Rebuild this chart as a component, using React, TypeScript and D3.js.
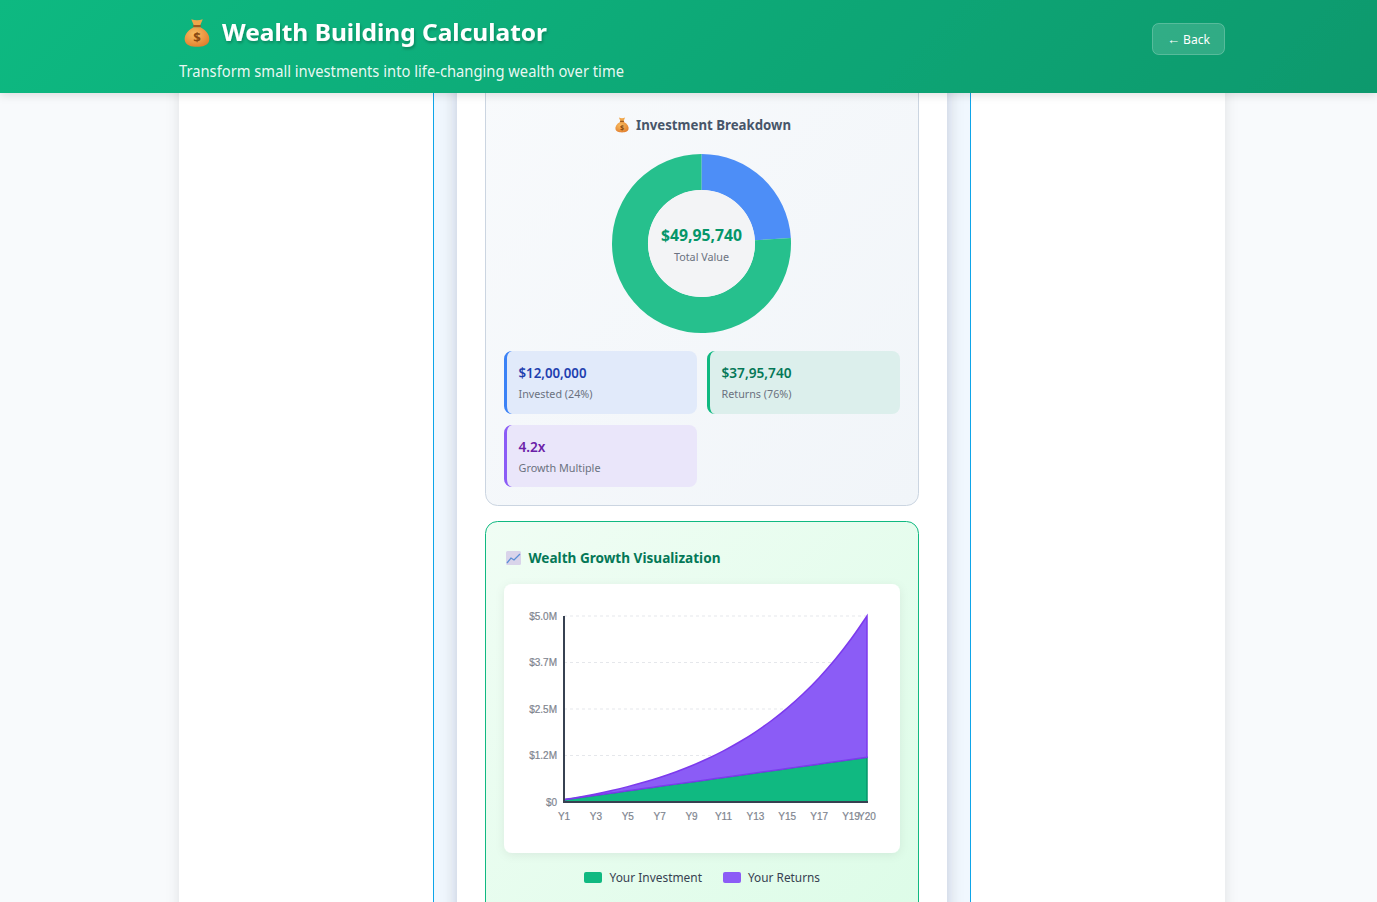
import React from 'react';
import * as d3 from 'd3';

// breakdown
const breakdownLabels = ['Invested', 'Returns'];
const breakdownValues = [1200000, 3795740];
const breakdownColors = ['#3b82f6', '#10b981'];

// growth chart
const years = ['Y1', 'Y2', 'Y3', 'Y4', 'Y5', 'Y6', 'Y7', 'Y8', 'Y9', 'Y10', 'Y11', 'Y12', 'Y13', 'Y14', 'Y15', 'Y16', 'Y17', 'Y18', 'Y19', 'Y20'];
const investment = [60000, 120000, 180000, 240000, 300000, 360000, 420000, 480000, 540000, 600000, 660000, 720000, 780000, 840000, 900000, 960000, 1020000, 1080000, 1140000, 1200000];
const totalValue = [64047, 136216, 217538, 309174, 412432, 528785, 659895, 807633, 974108, 1161695, 1373075, 1611261, 1879656, 2182089, 2522880, 2906891, 3339604, 3827196, 4376627, 4995740];
const yTickLabels = ['$0', '$1.2M', '$2.5M', '$3.7M', '$5.0M'];
const xTickLabels = ['Y1', 'Y3', 'Y5', 'Y7', 'Y9', 'Y11', 'Y13', 'Y15', 'Y17', 'Y19', 'Y20'];

const uiFont = '"Noto Sans", "Open Sans", sans-serif';
const axisFont = '"Liberation Sans", Arial, sans-serif';
const axisGrey = '#80858f';

const MoneyBag = ({ x, y, s }: { x: number; y: number; s: number }) => (
  <g transform={`translate(${x},${y}) scale(${s})`}>
    <path d="M-5 -12 Q0 -10 5 -12 L2.5 -6 L-2.5 -6 Z" fill="#f0a64a" />
    <rect x={-3.5} y={-7} width={7} height={2} rx={1} fill="#9c5a20" />
    <path d="M-3 -5 C-9 -2 -11.5 3 -10.5 7 C-9.5 11 -5 12 0 12 C5 12 9.5 11 10.5 7 C11.5 3 9 -2 3 -5 Z" fill="url(#bag)" />
    <text x={0} y={7.5} textAnchor="middle" fontSize={11.5} fontWeight={700} fontFamily={uiFont} fill="#8a4a12">$</text>
  </g>
);

export default function App() {
  // donut
  const pie = d3.pie<number>().sort(null)(breakdownValues);
  const arc = d3.arc<d3.PieArcDatum<number>>().innerRadius(53.5).outerRadius(89.5);

  // growth chart scales
  const x = d3.scalePoint<string>().domain(years).range([564, 867]);
  const y = d3.scaleLinear().domain([0, 4995740]).range([802, 616]);
  const idx = d3.range(years.length);

  const greenArea = d3.area<number>()
    .x(i => x(years[i])!)
    .y0(y(0))
    .y1(i => y(investment[i]))
    .curve(d3.curveMonotoneX);
  const purpleArea = d3.area<number>()
    .x(i => x(years[i])!)
    .y0(i => y(investment[i]))
    .y1(i => y(totalValue[i]))
    .curve(d3.curveMonotoneX);

  const yTicks = yTickLabels.map((label, i) => ({ label, v: (4995740 * i) / 4 }));

  const statCard = (cx: number, cy: number, h: number, bar: string, bg: string, val: string, valW: number, valColor: string, label: string, labelW: number) => (
    <g key={label}>
      <rect x={cx} y={cy} width={193} height={h} rx={8} fill={bg} />
      <path d={`M${cx + 8} ${cy} A8 8 0 0 0 ${cx} ${cy + 8} V${cy + h - 8} A8 8 0 0 0 ${cx + 8} ${cy + h} Q${cx + 3} ${cy + h - 1} ${cx + 3} ${cy + h - 8} V${cy + 8} Q${cx + 3} ${cy + 1} ${cx + 8} ${cy} Z`} fill={bar} />
      <text x={cx + 14.5} y={cy + 27} fontSize={14} fontWeight={600} fill={valColor} textLength={valW} lengthAdjust="spacingAndGlyphs">{val}</text>
      <text x={cx + 14.5} y={cy + 47} fontSize={11} fill="#6b7280" textLength={labelW} lengthAdjust="spacingAndGlyphs">{label}</text>
    </g>
  );

  return (
    <svg width={1377} height={902} viewBox="0 0 1377 902" fontFamily={uiFont}
      style={{ position: 'fixed', left: 0, top: 0, display: 'block' }}>
      <defs>
        <linearGradient id="hdr" gradientUnits="userSpaceOnUse" x1={321} y1={-321} x2={1056} y2={414}>
          <stop offset="0" stopColor="#10b981" />
          <stop offset="1" stopColor="#07996d" />
        </linearGradient>
        <radialGradient id="bag" cx="0.4" cy="0.35" r="0.75">
          <stop offset="0" stopColor="#f9bd62" />
          <stop offset="1" stopColor="#e07a2a" />
        </radialGradient>
        <linearGradient id="card1" x1="0" y1="0" x2="1" y2="1">
          <stop offset="0" stopColor="#f8fafc" />
          <stop offset="1" stopColor="#f1f5f9" />
        </linearGradient>
        <linearGradient id="card2" x1="0" y1="0" x2="1" y2="1">
          <stop offset="0" stopColor="#f0fdf4" />
          <stop offset="1" stopColor="#dcfce7" />
        </linearGradient>
        <filter id="hdrShadow" x="-5%" y="-20%" width="110%" height="150%">
          <feDropShadow dx={0} dy={2} stdDeviation={5} floodColor="#000" floodOpacity={0.12} />
        </filter>
        <filter id="pageShadow" x="-5%" y="-5%" width="110%" height="110%">
          <feDropShadow dx={0} dy={0} stdDeviation={7} floodColor="#000" floodOpacity={0.1} />
        </filter>
        <filter id="innerShadow" x="-10%" y="-5%" width="120%" height="110%">
          <feDropShadow dx={0} dy={0} stdDeviation={8} floodColor="#1e293b" floodOpacity={0.2} />
        </filter>
        <filter id="chartShadow" x="-10%" y="-10%" width="120%" height="120%">
          <feDropShadow dx={0} dy={2} stdDeviation={5} floodColor="#000" floodOpacity={0.07} />
        </filter>
        <filter id="titleShadow" x="-5%" y="-30%" width="110%" height="160%">
          <feDropShadow dx={1} dy={2} stdDeviation={1.5} floodColor="#000" floodOpacity={0.25} />
        </filter>
        <clipPath id="stripClip">
          <rect x={434} y={60} width={536} height={900} />
        </clipPath>
      </defs>

      <rect width={1377} height={902} fill="#f8fafc" />
      <rect x={179} y={60} width={1046} height={900} fill="#fff" filter="url(#pageShadow)" />

      {/* column holding the cards */}
      <rect x={433.5} y={60} width={537} height={900} fill="#f0f7fe" stroke="#0ea5e9" />
      <g clipPath="url(#stripClip)">
        <rect x={457} y={40} width={490} height={940} fill="#fff" filter="url(#innerShadow)" />
      </g>

      {/* breakdown card */}
      <rect x={485.5} y={60} width={433} height={445.5} rx={12} fill="url(#card1)" stroke="#cbd5e1" />
      <MoneyBag x={622} y={125} s={0.62} />
      <text x={636} y={130} fontSize={13.5} fontWeight={700} fill="#475569" textLength={155} lengthAdjust="spacingAndGlyphs">Investment Breakdown</text>

      <g transform="translate(701.5,243.5)">
        {pie.map((d, i) => (
          <path key={breakdownLabels[i]} d={arc(d)!} fill={breakdownColors[i]} fillOpacity={0.9} />
        ))}
        <circle r={53.5} fill="#f3f4f6" />
        <text y={-2.5} textAnchor="middle" fontSize={15.5} fontWeight={700} fill="#059669" textLength={81} lengthAdjust="spacingAndGlyphs">$49,95,740</text>
        <text y={17.5} textAnchor="middle" fontSize={11} fill="#6b7280" textLength={55} lengthAdjust="spacingAndGlyphs">Total Value</text>
      </g>

      {statCard(504, 351, 63, '#3b82f6', '#e1eafa', '$12,00,000', 68, '#1e40af', 'Invested (24%)', 74)}
      {statCard(707, 351, 63, '#10b981', '#dcefec', '$37,95,740', 70, '#047857', 'Returns (76%)', 70)}
      {statCard(504, 425, 62, '#8b5cf6', '#eae6fa', '4.2x', 27, '#6b21a8', 'Growth Multiple', 82)}

      {/* growth card */}
      <rect x={485.5} y={521.5} width={433} height={440} rx={12} fill="url(#card2)" stroke="#10b981" />
      <g transform="translate(506,551)">
        <rect width={15} height={14} rx={1.5} fill="#d9d4ea" />
        <path d="M1 12 L5 7 L8 9 L14 3" fill="none" stroke="#5b8fd6" strokeWidth={1.3} />
      </g>
      <text x={528.5} y={563} fontSize={13.5} fontWeight={700} fill="#047857" textLength={192} lengthAdjust="spacingAndGlyphs">Wealth Growth Visualization</text>

      <rect x={504} y={584} width={396} height={269} rx={8} fill="#fff" filter="url(#chartShadow)" />

      {yTicks.slice(1).map(t => (
        <line key={t.label} x1={564} x2={867} y1={y(t.v)} y2={y(t.v)} stroke="#e5e7eb" strokeDasharray="3,3" />
      ))}
      <path d={greenArea(idx)!} fill="#10b981" stroke="#059669" strokeWidth={1.5} />
      <path d={purpleArea(idx)!} fill="#8b5cf6" stroke="#7c3aed" strokeWidth={1.5} />
      <line x1={564} x2={564} y1={616} y2={803} stroke="#374151" strokeWidth={2} />
      <line x1={563} x2={868} y1={802} y2={802} stroke="#374151" strokeWidth={2} />
      {yTicks.map(t => (
        <text key={t.label} x={557} y={y(t.v) + 3.5} textAnchor="end" fontSize={10} fontFamily={axisFont} fill={axisGrey} stroke={axisGrey} strokeWidth={0.2}>{t.label}</text>
      ))}
      {xTickLabels.map(l => (
        <text key={l} x={x(l)} y={820} textAnchor="middle" fontSize={10} fontFamily={axisFont} fill={axisGrey} stroke={axisGrey} strokeWidth={0.2}>{l}</text>
      ))}

      <rect x={584} y={872} width={18} height={11} rx={2} fill="#10b981" />
      <text x={609.5} y={882} fontSize={12} fill="#374151" textLength={92.5} lengthAdjust="spacingAndGlyphs">Your Investment</text>
      <rect x={723} y={872} width={18} height={11} rx={2} fill="#8b5cf6" />
      <text x={748} y={882} fontSize={12} fill="#374151" textLength={72} lengthAdjust="spacingAndGlyphs">Your Returns</text>

      {/* header */}
      <rect width={1377} height={93} fill="url(#hdr)" filter="url(#hdrShadow)" />
      <MoneyBag x={197} y={33} s={1.15} />
      <text x={222} y={41} fontSize={24} fontWeight={700} fill="#fff" filter="url(#titleShadow)" textLength={325} lengthAdjust="spacingAndGlyphs">Wealth Building Calculator</text>
      <text x={179} y={77} fontSize={16} fill="#fff" fillOpacity={0.92} textLength={445} lengthAdjust="spacingAndGlyphs">Transform small investments into life-changing wealth over time</text>
      <rect x={1152.5} y={23.5} width={72} height={31} rx={6} fill="#fff" fillOpacity={0.15} stroke="#fff" strokeOpacity={0.25} />
      <text x={1167} y={44} fontSize={13} fontFamily={axisFont} fill="#fff" textLength={13} lengthAdjust="spacingAndGlyphs">←</text>
      <text x={1183} y={44} fontSize={13} fill="#fff" textLength={27} lengthAdjust="spacingAndGlyphs">Back</text>
    </svg>
  );
}
